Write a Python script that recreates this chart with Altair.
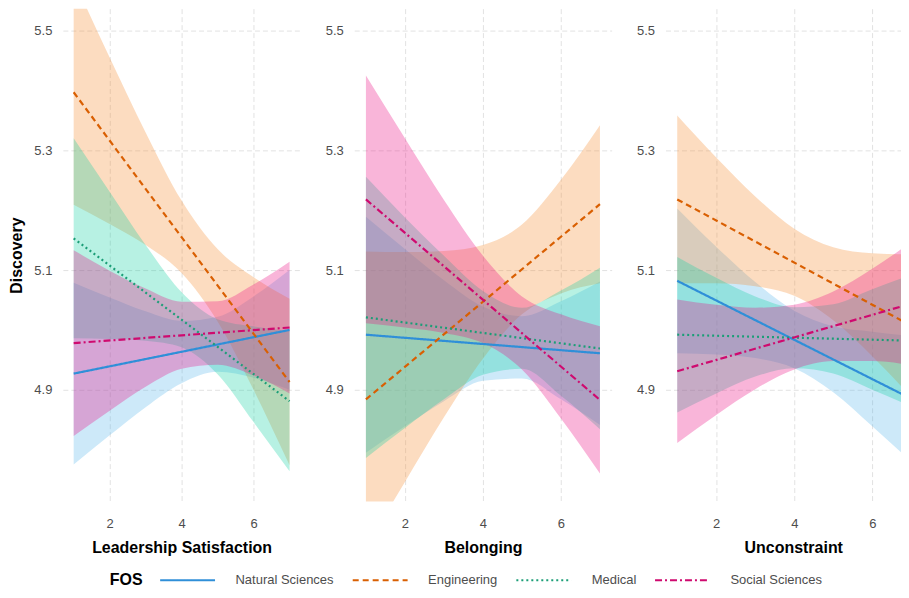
import altair as alt
import pandas as pd

# ---------------- data ----------------
FOS = ["Natural Sciences", "Engineering", "Medical", "Social Sciences"]
PANELS = ["Leadership Satisfaction", "Belonging", "Unconstraint"]
X_BAND = [1, 2, 3, 4, 5, 6, 7]          # x positions of the band estimates
X_LINE = [1, 7]                          # fitted lines are straight: ends only
X_TICKS = [2, 4, 6]
Y_TICKS = [4.9, 5.1, 5.3, 5.5]

LINE_COLORS = ["#2f8fd8", "#d95f02", "#1b9e77", "#cf0a6f"]
FILL_COLORS = ["#58b6ea", "#f58a30", "#12d2a2", "#ea0a80"]
DASHES = [[1, 0], [6, 4], [2, 3], [7, 3, 2, 3]]

# Leadership Satisfaction
LEAD_LINE = {
    "Natural Sciences": [4.927, 5.000],
    "Engineering": [5.397, 4.913],
    "Medical": [5.153, 4.881],
    "Social Sciences": [4.978, 5.004],
}
LEAD_LOW = {
    "Natural Sciences": [4.775, 4.824, 4.871, 4.911, 4.930, 4.920, 4.900],
    "Engineering": [5.209, 5.177, 5.142, 5.095, 5.014, 4.900, 4.774],
    "Medical": [4.986, 4.985, 4.982, 4.971, 4.926, 4.846, 4.764],
    "Social Sciences": [4.823, 4.865, 4.905, 4.935, 4.942, 4.924, 4.894],
}
LEAD_HIGH = {
    "Natural Sciences": [5.079, 5.054, 5.031, 5.015, 5.022, 5.056, 5.100],
    "Engineering": [5.585, 5.455, 5.330, 5.216, 5.135, 5.088, 5.052],
    "Medical": [5.320, 5.231, 5.142, 5.063, 5.018, 5.006, 4.998],
    "Social Sciences": [5.133, 5.099, 5.069, 5.047, 5.048, 5.076, 5.114],
}

# Belonging
BEL_LINE = {
    "Natural Sciences": [4.992, 4.961],
    "Engineering": [4.884, 5.210],
    "Medical": [5.021, 4.969],
    "Social Sciences": [5.218, 4.883],
}
BEL_LOW = {
    "Natural Sciences": [4.795, 4.839, 4.881, 4.915, 4.919, 4.884, 4.841],
    "Engineering": [4.637, 4.746, 4.854, 4.952, 5.026, 5.061, 5.078],
    "Medical": [4.786, 4.836, 4.884, 4.925, 4.935, 4.890, 4.834],
    "Social Sciences": [5.011, 5.004, 4.995, 4.978, 4.934, 4.852, 4.760],
}
BEL_HIGH = {
    "Natural Sciences": [5.189, 5.135, 5.083, 5.039, 5.023, 5.048, 5.081],
    "Engineering": [5.131, 5.130, 5.132, 5.142, 5.176, 5.251, 5.342],
    "Medical": [5.256, 5.188, 5.124, 5.065, 5.037, 5.066, 5.104],
    "Social Sciences": [5.425, 5.320, 5.217, 5.124, 5.056, 5.026, 5.006],
}

# Unconstraint
UNC_LINE = {
    "Natural Sciences": [5.082, 4.885],
    "Engineering": [5.218, 5.007],
    "Medical": [4.992, 4.982],
    "Social Sciences": [4.931, 5.044],
}
UNC_LOW = {
    "Natural Sciences": [4.961, 4.959, 4.953, 4.936, 4.896, 4.839, 4.780],
    "Engineering": [5.078, 5.078, 5.073, 5.057, 5.016, 4.956, 4.888],
    "Medical": [4.862, 4.894, 4.922, 4.936, 4.927, 4.900, 4.872],
    "Social Sciences": [4.811, 4.858, 4.901, 4.934, 4.948, 4.948, 4.941],
}
UNC_HIGH = {
    "Natural Sciences": [5.203, 5.139, 5.080, 5.032, 5.006, 4.997, 4.990],
    "Engineering": [5.358, 5.288, 5.223, 5.169, 5.138, 5.128, 5.126],
    "Medical": [5.122, 5.087, 5.056, 5.038, 5.043, 5.068, 5.092],
    "Social Sciences": [5.051, 5.042, 5.037, 5.042, 5.064, 5.102, 5.147],
}

PANEL_DATA = [
    (LEAD_LINE, LEAD_LOW, LEAD_HIGH),
    (BEL_LINE, BEL_LOW, BEL_HIGH),
    (UNC_LINE, UNC_LOW, UNC_HIGH),
]
# the right-hand panel is cut by the picture's edge, as in the reference
PANEL_WIDTHS = [238, 258, 236]
X_DOMAINS = [[0.7, 7.3], [0.7, 7.3], [0.7, 6.737]]
TITLE_X = [119, 129, 128]
PLOT_H = 494
Y_DOMAIN = [4.7133, 5.5367]

FONT = "Liberation Sans"


def make_panel(i):
    name = PANELS[i]
    line_d, low_d, high_d = PANEL_DATA[i]
    band_rows, line_rows = [], []
    for k, f in enumerate(FOS):
        for j, xv in enumerate(X_BAND):
            band_rows.append({"FOS": f, "order": k, "x": xv,
                              "lo": low_d[f][j], "hi": high_d[f][j]})
        for j, xv in enumerate(X_LINE):
            line_rows.append({"FOS": f, "order": k, "x": xv, "y": line_d[f][j]})
    band_df = pd.DataFrame(band_rows)
    line_df = pd.DataFrame(line_rows)

    x_scale = alt.Scale(domain=X_DOMAINS[i], nice=False, zero=False)
    x_enc = alt.X(
        "x:Q",
        scale=x_scale,
        axis=alt.Axis(values=X_TICKS, title=name, labelPadding=16,
                      titlePadding=9, titleX=TITLE_X[i]),
    )
    if i == 0:
        y_axis = alt.Axis(values=Y_TICKS, format=".1f", labelPadding=11,
                          title="Discovery", titlePadding=9)
    else:
        y_axis = alt.Axis(values=Y_TICKS, format=".1f", labelPadding=11, title=None)
    y_scale = alt.Scale(domain=Y_DOMAIN, nice=False, zero=False)

    bands = alt.Chart(band_df).mark_area(
        clip=True, interpolate="monotone", opacity=0.3
    ).encode(
        x=x_enc,
        y=alt.Y("lo:Q", scale=y_scale, axis=y_axis),
        y2="hi:Q",
        # data-driven domain (sorted like FOS) so this hidden legend does not
        # swallow the line legend
        fill=alt.Fill("FOS:N", sort=FOS, scale=alt.Scale(range=FILL_COLORS), legend=None),
        order="order:Q",
    )

    lines = alt.Chart(line_df).mark_line(clip=True, strokeWidth=2.2).encode(
        x=alt.X("x:Q", scale=x_scale),
        y=alt.Y("y:Q", scale=y_scale),
        stroke=alt.Stroke("FOS:N", title="FOS",
                          scale=alt.Scale(domain=FOS, range=LINE_COLORS)),
        strokeDash=alt.StrokeDash("FOS:N", title="FOS",
                                  scale=alt.Scale(domain=FOS, range=DASHES)),
        detail="FOS:N",
    )
    return alt.layer(bands, lines).properties(width=PANEL_WIDTHS[i], height=PLOT_H)


chart = alt.hconcat(
    make_panel(0), make_panel(1), make_panel(2), spacing=24
).resolve_scale(
    x="independent", y="independent"
).properties(
    padding={"left": 0, "top": 0, "right": 0, "bottom": 0}
).configure_view(
    strokeWidth=0
).configure_axis(
    grid=True,
    gridColor="#e2e2e2",
    gridDash=[5, 3],
    gridWidth=1,
    domain=False,
    ticks=False,
    labelFont=FONT,
    labelFontSize=13,
    labelColor="#4d4d4d",
    titleFont=FONT,
    titleFontSize=16,
    titleFontWeight="bold",
    titleColor="#000000",
).configure_legend(
    orient="none",
    legendX=47,
    legendY=565,
    padding=0,
    direction="horizontal",
    columns=4,
    titleOrient="left",
    titleFont=FONT,
    titleFontSize=16,
    titleFontWeight="bold",
    titleColor="#000000",
    titlePadding=37,
    labelFont=FONT,
    labelFontSize=13,
    labelColor="#4d4d4d",
    labelOffset=40,
    columnPadding=14,
    symbolType="M-3.93,0H3.93",
    symbolSize=196,
    symbolStrokeWidth=2,
)

chart.save("out.html", embed_options={"renderer": "svg", "actions": False})
